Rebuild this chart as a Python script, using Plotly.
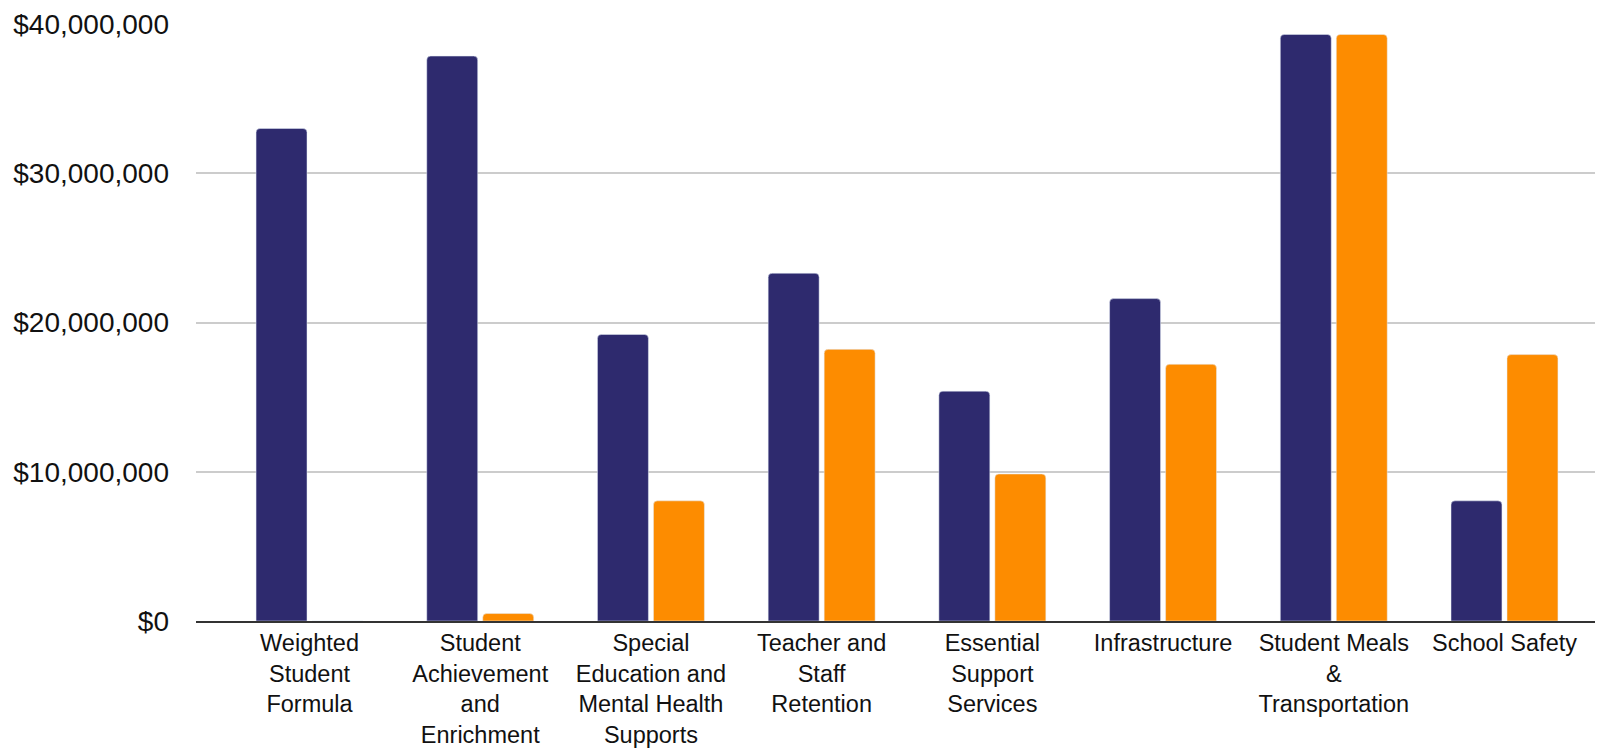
import plotly.graph_objects as go

categories = [
    "Weighted<br>Student<br>Formula",
    "Student<br>Achievement<br>and<br>Enrichment",
    "Special<br>Education and<br>Mental Health<br>Supports",
    "Teacher and<br>Staff<br>Retention",
    "Essential<br>Support<br>Services",
    "Infrastructure",
    "Student Meals<br>&<br>Transportation",
    "School Safety",
]
series_a = [33.0e6, 37.85e6, 19.2e6, 23.3e6, 15.4e6, 21.6e6, 39.3e6, 8.05e6]
series_b = [0, 0.5e6, 8.05e6, 18.2e6, 9.85e6, 17.2e6, 39.3e6, 17.85e6]
y_ticks = [0, 10e6, 20e6, 30e6, 40e6]
y_tick_labels = ["$0", "$10,000,000", "$20,000,000", "$30,000,000", "$40,000,000"]

fig = go.Figure()
fig.add_trace(go.Bar(x=categories, y=series_a, name="Series A", marker_color="#2e2a6e"))
fig.add_trace(go.Bar(x=categories, y=series_b, name="Series B", marker_color="#fd8c00"))

fig.update_layout(
    width=1603, height=752,
    margin=dict(l=188, r=0, t=16, b=139),
    paper_bgcolor="white", plot_bgcolor="white",
    barmode="group", bargap=0.344, bargroupgap=0.09,
    barcornerradius=4,
    showlegend=False,
    font=dict(family="Liberation Sans, Arial, sans-serif", color="#111"),
)
fig.update_xaxes(
    range=[-0.665, 7.624],
    showline=True, linecolor="#333333", linewidth=2,
    showgrid=False, ticks="",
    tickfont=dict(size=23.5),
    ticklabelstandoff=0,
)
fig.update_yaxes(
    range=[0, 40e6],
    tickvals=y_ticks, ticktext=y_tick_labels,
    showgrid=True, gridcolor="#cccccc", gridwidth=2,
    zeroline=False, showline=False, ticks="",
    tickfont=dict(size=28),
    ticklabelstandoff=26,
)

fig.write_html("out.html")
